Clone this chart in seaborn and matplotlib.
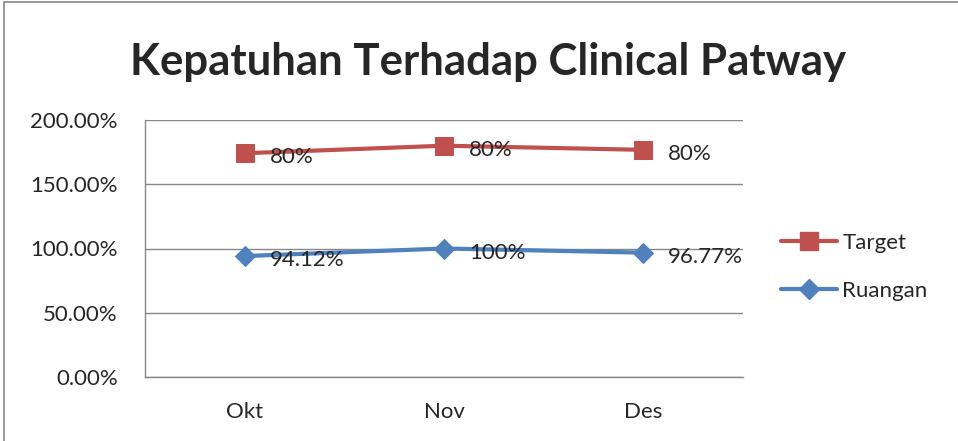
import pandas as pd
import seaborn as sns
import matplotlib.pyplot as plt
from matplotlib.patches import Rectangle
from matplotlib.lines import Line2D
from matplotlib.ticker import FuncFormatter

months = ["Okt", "Nov", "Des"]
ruangan = [94.12, 100.0, 96.77]
target = [80.0, 80.0, 80.0]
ruangan_labels = ["94.12%", "100%", "96.77%"]
target_labels = ["80%", "80%", "80%"]

# stacked line chart: Target is drawn on top of Ruangan
target_stacked = [r + t for r, t in zip(ruangan, target)]

df = pd.DataFrame({
    "month": months * 2,
    "pos": list(range(len(months))) * 2,
    "value": ruangan + target_stacked,
    "series": ["Ruangan"] * 3 + ["Target"] * 3,
})

red = "#C0504D"
blue = "#4F81BD"
fs = 16

sns.set_theme()
sns.set_style("white")
plt.rcParams["font.family"] = ["Lato", "DejaVu Sans"]

fig = plt.figure(figsize=(9.58, 4.41), dpi=100)
ax = fig.add_axes([145 / 958, 1 - 377 / 441, (743 - 145) / 958, (377 - 120) / 441])

sns.lineplot(data=df[df.series == "Ruangan"], x="pos", y="value", ax=ax,
             color=blue, linewidth=3, marker="D", markersize=10,
             markeredgecolor=blue)
sns.lineplot(data=df[df.series == "Target"], x="pos", y="value", ax=ax,
             color=red, linewidth=3, marker="s", markersize=13,
             markeredgecolor=red)

for i in range(len(months)):
    ax.annotate(ruangan_labels[i], (i, ruangan[i]), xytext=(18, -3),
                textcoords="offset points", va="center", ha="left", fontsize=fs)
    ax.annotate(target_labels[i], (i, target_stacked[i]), xytext=(18, -3),
                textcoords="offset points", va="center", ha="left", fontsize=fs)

ax.set_xlim(-0.5, 2.5)
ax.set_ylim(0, 200)
ax.set_yticks([0, 50, 100, 150, 200])
ax.yaxis.set_major_formatter(FuncFormatter(lambda v, p: f"{v:.2f}%"))
ax.set_xticks(range(len(months)))
ax.set_xticklabels(months)
ax.tick_params(axis="both", labelsize=fs, length=0)
ax.tick_params(axis="y", pad=19.5)
ax.tick_params(axis="x", pad=18)
ax.set_xlabel("")
ax.set_ylabel("")
ax.grid(axis="y", color="#868686", linewidth=1)
ax.set_axisbelow(True)
for s in ["top", "right"]:
    ax.spines[s].set_visible(False)
for s in ["left", "bottom"]:
    ax.spines[s].set_color("#868686")
    ax.spines[s].set_linewidth(1)
if ax.get_legend():
    ax.get_legend().remove()

handles = [
    Line2D([], [], color=red, linewidth=3, marker="s", markersize=13, label="Target"),
    Line2D([], [], color=blue, linewidth=3, marker="D", markersize=10, label="Ruangan"),
]
fig.legend(handles=handles, loc="center left", bbox_to_anchor=(770 / 958, 1 - 267 / 441),
           frameon=False, fontsize=fs, handlelength=2.5, handletextpad=0.25,
           labelspacing=1.25, borderpad=0)

fig.text(488 / 958, 1 - 62 / 441, "Kepatuhan Terhadap Clinical Patway",
         ha="center", va="center", fontsize=31.5, fontweight="bold")

fig.patches.append(Rectangle((4 / 958, -0.1), 1.2, 1 - 2 / 441 + 0.1,
                             transform=fig.transFigure, fill=False,
                             edgecolor="#868686", linewidth=1.2))

fig.savefig("out.png", dpi=100)
